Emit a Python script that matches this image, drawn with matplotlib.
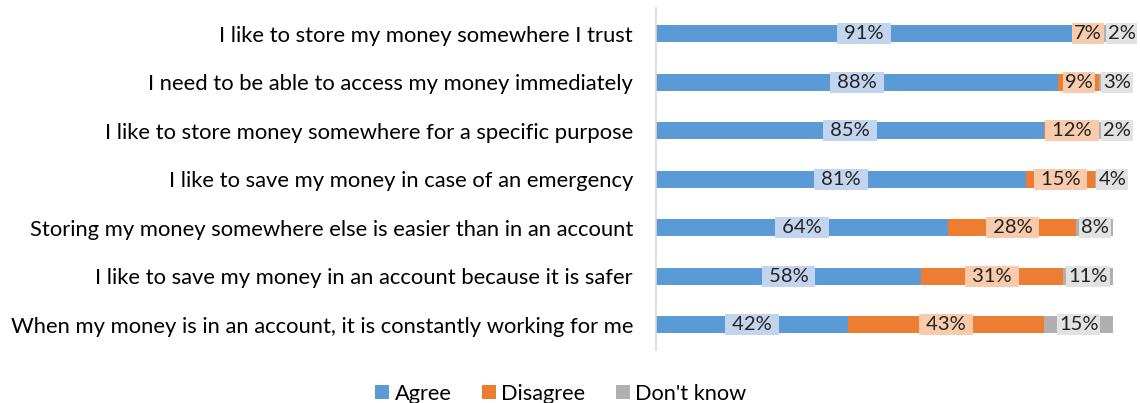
import numpy as np
import matplotlib.pyplot as plt

plt.rcParams['font.family'] = ['Lato', 'DejaVu Sans']

statements = [
    "I like to store my money somewhere I trust",
    "I need to be able to access my money immediately",
    "I like to store money somewhere for a specific purpose",
    "I like to save my money in case of an emergency",
    "Storing my money somewhere else is easier than in an account",
    "I like to save my money in an account because it is safer",
    "When my money is in an account, it is constantly working for me",
]
agree = [91, 88, 85, 81, 64, 58, 42]
disagree = [7, 9, 12, 15, 28, 31, 43]
dont_know = [2, 3, 2, 4, 8, 11, 15]

series = [
    ("Agree", agree, "#5B9BD5", "#C3D5EE"),
    ("Disagree", disagree, "#ED7D31", "#F8CBAD"),
    ("Don't know", dont_know, "#B0B0B0", "#E2E2E2"),
]

fig = plt.figure(figsize=(11.4, 4.03), dpi=100)
ax = fig.add_axes([656 / 1140, 1 - 350 / 403, 457 / 1140, 342 / 403])

y = np.arange(len(statements))[::-1]
left = np.zeros(len(statements))
for name, vals, color, light in series:
    vals = np.array(vals, dtype=float)
    ax.barh(y, vals, left=left, height=0.35, color=color, label=name)
    for yi, l, v in zip(y, left, vals):
        label = f"{int(v)}%"
        # small end labels are nudged right, as the original does
        if name == "Don't know" and v < 5:
            x, ha = l + 0.8, 'left'
        else:
            x, ha = l + v / 2, 'center'
            if v >= 10 and name != "Don't know":
                label = f" {label} "
        ax.text(x, yi, label, ha=ha, va='center', fontsize=14.5,
                color='#222222',
                bbox=dict(boxstyle='square,pad=0.1', fc=light, ec='none'))
    left += vals

ax.set_xlim(0, 100)
ax.set_ylim(-0.52, 6.53)
ax.set_yticks(y)
ax.set_yticklabels(statements, fontsize=15.8)
ax.tick_params(axis='y', length=0, pad=16.5)
ax.set_xticks([])
for s in ['top', 'right', 'bottom']:
    ax.spines[s].set_visible(False)
ax.spines['left'].set_color('#D9D9D9')
ax.spines['left'].set_linewidth(1.2)

fig.legend(loc='lower center', bbox_to_anchor=(0.492, -0.05), ncol=3, frameon=False,
           fontsize=15.7, handlelength=0.64, handleheight=0.64, handletextpad=0.25,
           columnspacing=1.4)

fig.savefig("out.png", dpi=100)
